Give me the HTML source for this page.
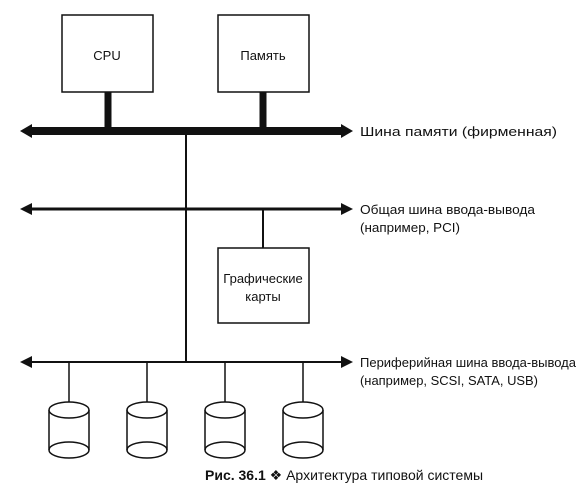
<!DOCTYPE html>
<html><head><meta charset="utf-8"><style>
body{margin:0;background:#fff;width:585px;height:491px;overflow:hidden}
text{font-family:"Liberation Sans",sans-serif;fill:#111}
</style></head><body>
<svg width="585" height="491" viewBox="0 0 585 491" xmlns="http://www.w3.org/2000/svg">
<g stroke="#111" fill="none">
<rect x="62" y="15" width="91" height="77" stroke-width="1.5" fill="#fff"/>
<rect x="218" y="15" width="91" height="77" stroke-width="1.5" fill="#fff"/>
<rect x="218" y="248" width="91" height="75" stroke-width="1.5" fill="#fff"/>
<line x1="108" y1="92" x2="108" y2="130" stroke-width="7"/>
<line x1="263" y1="92" x2="263" y2="130" stroke-width="7"/>
<line x1="30" y1="131" x2="343" y2="131" stroke-width="8"/>
<line x1="186" y1="131" x2="186" y2="362" stroke-width="2"/>
<line x1="30" y1="209" x2="343" y2="209" stroke-width="3"/>
<line x1="263" y1="209" x2="263" y2="248" stroke-width="2"/>
<line x1="30" y1="362" x2="343" y2="362" stroke-width="2"/>
<g stroke-width="1.5">
<line x1="69" y1="362" x2="69" y2="402"/>
<line x1="147" y1="362" x2="147" y2="402"/>
<line x1="225" y1="362" x2="225" y2="402"/>
<line x1="303" y1="362" x2="303" y2="402"/>
</g>
</g>
<g fill="#111">
<polygon points="20,131 32,124 32,138"/><polygon points="353,131 341,124 341,138"/>
<polygon points="20,209 32,203 32,215"/><polygon points="353,209 341,203 341,215"/>
<polygon points="20,362 32,356 32,368"/><polygon points="353,362 341,356 341,368"/>
</g>
<g stroke="#111" stroke-width="1.5" fill="#fff">
<g transform="translate(69,0)"><path d="M-20,410 L-20,450 A20,8 0 0 0 20,450 L20,410"/><ellipse cx="0" cy="410" rx="20" ry="8"/><path d="M-20,450 A20,8 0 0 1 20,450" fill="none"/></g>
<g transform="translate(147,0)"><path d="M-20,410 L-20,450 A20,8 0 0 0 20,450 L20,410"/><ellipse cx="0" cy="410" rx="20" ry="8"/><path d="M-20,450 A20,8 0 0 1 20,450" fill="none"/></g>
<g transform="translate(225,0)"><path d="M-20,410 L-20,450 A20,8 0 0 0 20,450 L20,410"/><ellipse cx="0" cy="410" rx="20" ry="8"/><path d="M-20,450 A20,8 0 0 1 20,450" fill="none"/></g>
<g transform="translate(303,0)"><path d="M-20,410 L-20,450 A20,8 0 0 0 20,450 L20,410"/><ellipse cx="0" cy="410" rx="20" ry="8"/><path d="M-20,450 A20,8 0 0 1 20,450" fill="none"/></g>
</g>
<g font-size="13">
<text x="107" y="60" text-anchor="middle">CPU</text>
<text x="263" y="60" text-anchor="middle">Память</text>
<text x="263" y="283" text-anchor="middle">Графические</text>
<text x="263" y="301" text-anchor="middle">карты</text>
<text x="360" y="136" textLength="197" lengthAdjust="spacingAndGlyphs">Шина памяти (фирменная)</text>
<text x="360" y="214" textLength="175" lengthAdjust="spacingAndGlyphs">Общая шина ввода-вывода</text>
<text x="360" y="232" textLength="100" lengthAdjust="spacingAndGlyphs">(например, PCI)</text>
<text x="360" y="367" textLength="216" lengthAdjust="spacingAndGlyphs">Периферийная шина ввода-вывода</text>
<text x="360" y="385" textLength="178" lengthAdjust="spacingAndGlyphs">(например, SCSI, SATA, USB)</text>
</g>
<text x="205" y="480" font-size="14"><tspan font-weight="bold">Рис. 36.1</tspan> ❖ Архитектура типовой системы</text>
</svg>
</body></html>
